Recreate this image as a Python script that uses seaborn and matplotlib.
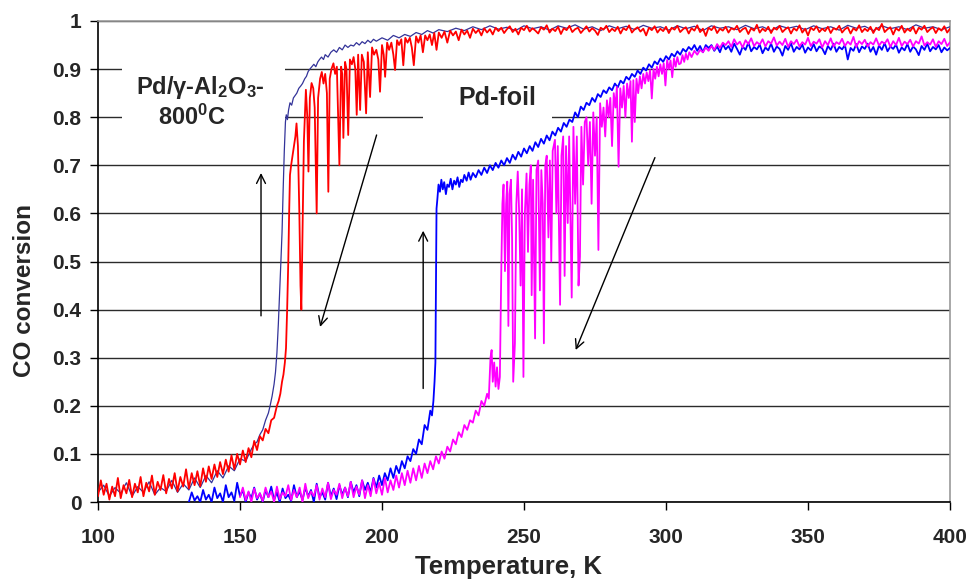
import matplotlib
matplotlib.use("Agg")
import matplotlib.pyplot as plt
import pandas as pd
import seaborn as sns
from matplotlib.patches import Rectangle

# ---------------- data ----------------
# Pd/gamma-Al2O3-800C, heating (ignition)  (T [K], CO conversion)
ALU_UP = [
    (100, 0.02), (102, 0.035), (104, 0.012), (106, 0.03), (108, 0.018), (110, 0.04),
    (112, 0.012), (114, 0.032), (116, 0.02), (118, 0.042), (120, 0.015), (122, 0.03),
    (124, 0.022), (126, 0.045), (128, 0.02), (130, 0.038), (132, 0.025), (134, 0.05),
    (136, 0.03), (138, 0.055), (140, 0.04), (142, 0.065), (144, 0.05), (146, 0.075),
    (148, 0.065), (150, 0.09), (152, 0.085), (154, 0.11), (155, 0.12), (156, 0.125),
    (157, 0.14), (158, 0.15), (159, 0.17), (160, 0.185), (160.6, 0.20), (161.3, 0.22),
    (162, 0.245), (162.5, 0.27), (163, 0.31), (163.5, 0.37), (164, 0.44), (164.4, 0.50),
    (164.8, 0.56), (165.2, 0.65), (165.6, 0.73), (166, 0.79), (166.3, 0.805), (166.7, 0.795),
    (167.1, 0.815), (167.6, 0.83), (168.2, 0.825), (168.8, 0.84), (169.4, 0.845), (170, 0.85),
    (170.7, 0.86), (171.4, 0.865), (172, 0.87), (172.8, 0.88), (173.4, 0.885), (174, 0.895),
    (174.6, 0.90), (175.3, 0.905), (176, 0.91), (176.7, 0.905), (177.4, 0.915), (178, 0.92),
    (178.7, 0.925), (179.4, 0.92), (180, 0.93), (181, 0.925), (182, 0.935), (183, 0.94),
    (184, 0.935), (185, 0.945), (186, 0.94), (187, 0.95), (188, 0.945), (189, 0.95),
    (190, 0.948), (191, 0.955), (192, 0.95), (193, 0.957), (194, 0.953), (195, 0.96),
    (196, 0.955), (197, 0.962), (198, 0.958), (200, 0.965), (202, 0.96), (204, 0.97),
    (206, 0.965), (208, 0.972), (210, 0.968), (212, 0.976), (214, 0.972), (216, 0.98),
    (218, 0.975), (220, 0.982), (223, 0.978), (226, 0.985), (229, 0.98), (232, 0.988),
    (235, 0.982), (238, 0.99), (241, 0.983), (244, 0.987), (247, 0.98), (250, 0.99),
    (253, 0.984), (256, 0.988), (259, 0.981), (262, 0.99), (265, 0.985), (268, 0.992),
    (271, 0.983), (274, 0.988), (277, 0.98), (280, 0.99), (283, 0.984), (286, 0.989),
    (289, 0.982), (292, 0.991), (295, 0.985), (298, 0.988), (301, 0.981), (304, 0.99),
    (307, 0.984), (310, 0.989), (313, 0.98), (316, 0.99), (319, 0.985), (322, 0.988),
    (325, 0.982), (328, 0.991), (331, 0.984), (334, 0.988), (337, 0.98), (340, 0.99),
    (343, 0.985), (346, 0.989), (349, 0.982), (352, 0.99), (355, 0.984), (358, 0.988),
    (361, 0.981), (364, 0.991), (367, 0.985), (370, 0.989), (373, 0.98), (376, 0.99),
    (379, 0.984), (382, 0.988), (385, 0.982), (388, 0.992), (391, 0.985), (394, 0.988),
    (397, 0.982), (400, 0.988),
]

# Pd/gamma-Al2O3-800C, cooling (extinction, with oscillation spikes)
ALU_DOWN = [
    (100, 0.012), (101, 0.045), (102, 0.015), (103, 0.038), (104, 0.005), (105, 0.032),
    (106, 0.012), (107, 0.05), (108, 0.008), (109, 0.035), (110, 0.018), (111, 0.046),
    (112, 0.01), (113, 0.038), (114, 0.02), (115, 0.052), (116, 0.012), (117, 0.04),
    (118, 0.022), (119, 0.055), (120, 0.015), (121, 0.042), (122, 0.025), (123, 0.056),
    (124, 0.018), (125, 0.048), (126, 0.028), (127, 0.06), (128, 0.022), (129, 0.052),
    (130, 0.032), (131, 0.068), (132, 0.028), (133, 0.06), (134, 0.035), (135, 0.064),
    (136, 0.033), (137, 0.07), (138, 0.042), (139, 0.074), (140, 0.048), (141, 0.078),
    (142, 0.052), (143, 0.083), (144, 0.058), (145, 0.088), (146, 0.063), (147, 0.097),
    (148, 0.068), (149, 0.10), (150, 0.078), (151, 0.107), (152, 0.083), (153, 0.112),
    (154, 0.093), (155, 0.127), (156, 0.108), (157, 0.137), (158, 0.128), (159, 0.152),
    (160, 0.143), (161, 0.17), (162, 0.175), (163, 0.20), (163.6, 0.21), (164.2, 0.225),
    (164.8, 0.25), (165.3, 0.265), (165.8, 0.29), (166.2, 0.32), (166.6, 0.40), (167, 0.50),
    (167.3, 0.60), (167.6, 0.68), (168, 0.70), (168.5, 0.72), (169, 0.74), (169.5, 0.76),
    (169.9, 0.787), (170.4, 0.74), (170.9, 0.60), (171.3, 0.45), (171.6, 0.40), (172, 0.55),
    (172.5, 0.75), (173.2, 0.857), (173.7, 0.80), (174.1, 0.687), (174.6, 0.84), (175.2, 0.871),
    (175.8, 0.86), (176.3, 0.82), (177, 0.60), (177.5, 0.84), (178.2, 0.88), (178.8, 0.894),
    (179.4, 0.87), (180, 0.89), (180.6, 0.85), (181.1, 0.645), (181.6, 0.88), (182.2, 0.90),
    (182.9, 0.912), (183.5, 0.89), (184.1, 0.905), (185, 0.70), (185.6, 0.905), (186, 0.89),
    (186.4, 0.757), (187, 0.915), (187.5, 0.90), (188.1, 0.763), (188.7, 0.92), (189.4, 0.91),
    (190, 0.925), (190.6, 0.90), (191.1, 0.805), (191.6, 0.93), (192.3, 0.815), (192.9, 0.93),
    (193.6, 0.915), (194.4, 0.808), (195, 0.935), (195.8, 0.842), (196.5, 0.945), (197.2, 0.93),
    (198, 0.94), (198.7, 0.92), (199.3, 0.853), (200, 0.95), (200.6, 0.93), (201.1, 0.884),
    (201.8, 0.955), (202.5, 0.94), (203.3, 0.955), (204, 0.93), (204.6, 0.898), (205.3, 0.96),
    (206, 0.95), (206.8, 0.962), (207.5, 0.908), (208.2, 0.965), (209, 0.955), (209.8, 0.965),
    (210.5, 0.945), (211.2, 0.908), (212, 0.968), (212.8, 0.955), (213.6, 0.97), (214.4, 0.935),
    (215.2, 0.97), (216, 0.96), (216.8, 0.972), (217.6, 0.95), (218.4, 0.975), (219.2, 0.94),
    (220, 0.976), (221, 0.965), (222, 0.978), (223, 0.955), (224, 0.98), (225, 0.97),
    (226, 0.978), (227, 0.96), (228, 0.982), (229, 0.972), (230, 0.98), (231, 0.965),
    (232, 0.984), (233, 0.975), (234, 0.982), (235, 0.97), (236, 0.985), (237, 0.976),
    (238, 0.983), (239, 0.972), (240, 0.986),
    (241, 0.979), (242, 0.986), (243, 0.975), (244, 0.983), (245, 0.989), (246, 0.977),
    (247, 0.984), (248, 0.972), (249, 0.986), (250, 0.981), (251, 0.99), (252, 0.978),
    (253, 0.985), (254, 0.98), (255, 0.974), (256, 0.987), (257, 0.982), (258, 0.991),
    (259, 0.976), (260, 0.984), (261, 0.979), (262, 0.988), (263, 0.973), (264, 0.985),
    (265, 0.981), (266, 0.99), (267, 0.977), (268, 0.983), (269, 0.986), (270, 0.975),
    (271, 0.982), (272, 0.989), (273, 0.978), (274, 0.985), (275, 0.98), (276, 0.971),
    (277, 0.986), (278, 0.982), (279, 0.99), (280, 0.977), (281, 0.984), (282, 0.979),
    (283, 0.988), (284, 0.974), (285, 0.985), (286, 0.981), (287, 0.991), (288, 0.976),
    (289, 0.983), (290, 0.987), (291, 0.978), (292, 0.984), (293, 0.97), (294, 0.986),
    (295, 0.981), (296, 0.989), (297, 0.976), (298, 0.984), (299, 0.979), (300, 0.988),
    (301, 0.975), (302, 0.986), (303, 0.982), (304, 0.99), (305, 0.977), (306, 0.983),
    (307, 0.987), (308, 0.974), (309, 0.985), (310, 0.98), (311, 0.991), (312, 0.977),
    (313, 0.984), (314, 0.969), (315, 0.986), (316, 0.981), (317, 0.989), (318, 0.975),
    (319, 0.984), (320, 0.98), (321, 0.988), (322, 0.976), (323, 0.985), (324, 0.982),
    (325, 0.99), (326, 0.977), (327, 0.983), (328, 0.986), (329, 0.973), (330, 0.985),
    (331, 0.98), (332, 0.992), (333, 0.976), (334, 0.984), (335, 0.979), (336, 0.988),
    (337, 0.975), (338, 0.986), (339, 0.982), (340, 0.99), (341, 0.977), (342, 0.983),
    (343, 0.987), (344, 0.974), (345, 0.985), (346, 0.98), (347, 0.991), (348, 0.976),
    (349, 0.984), (350, 0.97), (351, 0.986), (352, 0.981), (353, 0.989), (354, 0.977),
    (355, 0.984), (356, 0.979), (357, 0.988), (358, 0.975), (359, 0.985), (360, 0.982),
    (361, 0.99), (362, 0.976), (363, 0.983), (364, 0.987), (365, 0.974), (366, 0.985),
    (367, 0.98), (368, 0.991), (369, 0.977), (370, 0.984), (371, 0.979), (372, 0.988),
    (373, 0.975), (374, 0.986), (375, 0.981), (376, 0.994), (377, 0.977), (378, 0.983),
    (379, 0.987), (380, 0.972), (381, 0.985), (382, 0.98), (383, 0.99), (384, 0.976),
    (385, 0.984), (386, 0.979), (387, 0.988), (388, 0.974), (389, 0.986), (390, 0.982),
    (391, 0.99), (392, 0.977), (393, 0.983), (394, 0.987), (395, 0.975), (396, 0.985),
    (397, 0.98), (398, 0.989), (399, 0.976), (400, 0.984),
]

# Pd-foil, heating
FOIL_UP = [
    (132, 0.0), (133, 0.02), (134, 0.003), (135, 0.012), (136, 0.0), (137, 0.025),
    (138, 0.005), (139, 0.015), (140, 0.0), (141, 0.03), (142, 0.008), (143, 0.018),
    (144, 0.0), (145, 0.035), (146, 0.01), (147, 0.02), (148, 0.002), (149, 0.04),
    (150, 0.012), (151, 0.025), (152, 0.0), (153, 0.02), (154, 0.008), (155, 0.03),
    (156, 0.005), (157, 0.018), (158, 0.0), (159, 0.025), (160, 0.01), (161, 0.032),
    (162, 0.004), (163, 0.02), (164, 0.0), (165, 0.028), (166, 0.008), (167, 0.015),
    (168, 0.002), (169, 0.035), (170, 0.01), (171, 0.022), (172, 0.004), (173, 0.03),
    (174, 0.012), (175, 0.025), (176, 0.0), (177, 0.038), (178, 0.01), (179, 0.02),
    (180, 0.005), (181, 0.04), (182, 0.012), (183, 0.028), (184, 0.006), (185, 0.035),
    (186, 0.015), (187, 0.03), (188, 0.01), (189, 0.042), (190, 0.02), (191, 0.035),
    (192, 0.012), (193, 0.045), (194, 0.025), (195, 0.04), (196, 0.02), (197, 0.05),
    (198, 0.03), (199, 0.055), (200, 0.035), (201, 0.06), (202, 0.045), (203, 0.07),
    (204, 0.05), (205, 0.075), (206, 0.06), (207, 0.085), (208, 0.07), (209, 0.095),
    (210, 0.085), (211, 0.11), (212, 0.10), (213, 0.13), (214, 0.12), (215, 0.16),
    (216, 0.15), (217, 0.19), (217.6, 0.18), (218.1, 0.21), (218.5, 0.25), (218.8, 0.29),
    (219.0, 0.45), (219.2, 0.61), (219.5, 0.63), (219.9, 0.66), (220.4, 0.645), (220.9, 0.67),
    (221.4, 0.65), (221.9, 0.665), (222.5, 0.64), (223, 0.66), (223.6, 0.655), (224.2, 0.672),
    (224.8, 0.65), (225.4, 0.668), (226, 0.66), (226.6, 0.675), (227.2, 0.655), (227.8, 0.67),
    (228.4, 0.665), (229, 0.68), (229.8, 0.668), (230.5, 0.685), (231.2, 0.67), (232, 0.684),
    (233, 0.675), (234, 0.69), (235, 0.68), (236, 0.695), (237, 0.684), (238, 0.70),
    (239, 0.69), (240, 0.705), (241, 0.695), (242, 0.71), (243, 0.70), (244, 0.715),
    (245, 0.705), (246, 0.722), (247, 0.712), (248, 0.728), (249, 0.718), (250, 0.735),
    (251, 0.725), (252, 0.74), (253, 0.73), (254, 0.748), (255, 0.738), (256, 0.755),
    (257, 0.745), (258, 0.762), (259, 0.752), (260, 0.77), (261, 0.762), (262, 0.778),
    (263, 0.77), (264, 0.788), (265, 0.78), (266, 0.795), (267, 0.79), (268, 0.81),
    (269, 0.80), (270, 0.822), (271, 0.815), (272, 0.83), (273, 0.825), (274, 0.84),
    (275, 0.832), (276, 0.848), (277, 0.842), (278, 0.856), (279, 0.85), (280, 0.862),
    (281, 0.856), (282, 0.87), (283, 0.862), (284, 0.876), (285, 0.87), (286, 0.884),
    (287, 0.878), (288, 0.89), (289, 0.884), (290, 0.897), (291, 0.89), (292, 0.903),
    (293, 0.897), (294, 0.91), (295, 0.903), (296, 0.916), (297, 0.91), (298, 0.922),
    (299, 0.915), (300, 0.927), (301, 0.92), (302, 0.932), (303, 0.926), (304, 0.937),
    (305, 0.93), (306, 0.942), (307, 0.936), (308, 0.946), (309, 0.94), (310, 0.95),
    (311, 0.938), (312, 0.948), (313, 0.935), (314, 0.95),
    (315, 0.944), (316, 0.95), (317, 0.938), (318, 0.947), (319, 0.935), (320, 0.952),
    (321, 0.941), (322, 0.948), (323, 0.936), (324, 0.953), (325, 0.942), (326, 0.93),
    (327, 0.947), (328, 0.94), (329, 0.955), (330, 0.937), (331, 0.946), (332, 0.941),
    (333, 0.951), (334, 0.933), (335, 0.945), (336, 0.939), (337, 0.953), (338, 0.936),
    (339, 0.947), (340, 0.942), (341, 0.928), (342, 0.948), (343, 0.94), (344, 0.954),
    (345, 0.936), (346, 0.946), (347, 0.941), (348, 0.951), (349, 0.934), (350, 0.945),
    (351, 0.939), (352, 0.952), (353, 0.937), (354, 0.947), (355, 0.943), (356, 0.931),
    (357, 0.948), (358, 0.94), (359, 0.953), (360, 0.936), (361, 0.946), (362, 0.941),
    (363, 0.95), (364, 0.92), (365, 0.944), (366, 0.938), (367, 0.952), (368, 0.935),
    (369, 0.947), (370, 0.942), (371, 0.953), (372, 0.936), (373, 0.946), (374, 0.93),
    (375, 0.949), (376, 0.94), (377, 0.954), (378, 0.937), (379, 0.947), (380, 0.942),
    (381, 0.951), (382, 0.934), (383, 0.945), (384, 0.939), (385, 0.952), (386, 0.936),
    (387, 0.947), (388, 0.941), (389, 0.929), (390, 0.948), (391, 0.94), (392, 0.953),
    (393, 0.937), (394, 0.946), (395, 0.941), (396, 0.95), (397, 0.935), (398, 0.945),
    (399, 0.939), (400, 0.944),
]

# Pd-foil, cooling (with oscillation spikes)
FOIL_DOWN = [
    (150, 0.01), (151, 0.03), (152, 0.004), (153, 0.022), (154, 0.0), (155, 0.028),
    (156, 0.008), (157, 0.018), (158, 0.002), (159, 0.03), (160, 0.01), (161, 0.022),
    (162, 0.0), (163, 0.032), (164, 0.006), (165, 0.02), (166, 0.012), (167, 0.035),
    (168, 0.004), (169, 0.025), (170, 0.01), (171, 0.03), (172, 0.0), (173, 0.038),
    (174, 0.008), (175, 0.022), (176, 0.012), (177, 0.035), (178, 0.005), (179, 0.028),
    (180, 0.01), (181, 0.04), (182, 0.006), (183, 0.025), (184, 0.015), (185, 0.038),
    (186, 0.008), (187, 0.03), (188, 0.012), (189, 0.042), (190, 0.01), (191, 0.032),
    (192, 0.015), (193, 0.045), (194, 0.008), (195, 0.035), (196, 0.012), (197, 0.048),
    (198, 0.018), (199, 0.04), (200, 0.015), (201, 0.05), (202, 0.02), (203, 0.045),
    (204, 0.025), (205, 0.055), (206, 0.03), (207, 0.06), (208, 0.035), (209, 0.065),
    (210, 0.04), (211, 0.07), (212, 0.045), (213, 0.075), (214, 0.05), (215, 0.08),
    (216, 0.06), (217, 0.085), (218, 0.068), (219, 0.095), (220, 0.08), (221, 0.105),
    (222, 0.09), (223, 0.115), (224, 0.105), (225, 0.13), (226, 0.12), (227, 0.145),
    (228, 0.135), (229, 0.16), (230, 0.15), (231, 0.17), (232, 0.165), (233, 0.19),
    (234, 0.18), (235, 0.21), (236, 0.20), (237, 0.225), (237.6, 0.215), (238.2, 0.30),
    (238.6, 0.316), (239, 0.25), (239.5, 0.29), (240, 0.24), (240.5, 0.28), (241, 0.235),
    (241.5, 0.26), (242, 0.48), (242.4, 0.62), (242.8, 0.66), (243.3, 0.48), (243.7, 0.62),
    (244.1, 0.666), (244.5, 0.366), (244.9, 0.64), (245.4, 0.67), (245.8, 0.55), (246.2, 0.25),
    (246.8, 0.33), (247.3, 0.62), (247.8, 0.687), (248.3, 0.60), (248.8, 0.45), (249.3, 0.65),
    (249.8, 0.26), (250.3, 0.60), (250.9, 0.683), (251.4, 0.52), (251.9, 0.66), (252.4, 0.70),
    (252.7, 0.43), (253.2, 0.67), (253.9, 0.34), (254.4, 0.69), (255, 0.71), (255.6, 0.44),
    (256.1, 0.69), (256.6, 0.62), (257, 0.33), (257.5, 0.70), (258, 0.72), (258.6, 0.55),
    (259.1, 0.71), (259.6, 0.50), (260.1, 0.73), (260.9, 0.753), (261.4, 0.60), (261.9, 0.74),
    (262.7, 0.41), (263.2, 0.72), (263.8, 0.76), (264.3, 0.47), (264.8, 0.74), (265.4, 0.58),
    (265.9, 0.76), (266.8, 0.425), (267.4, 0.78), (268, 0.62), (268.6, 0.76), (269.2, 0.45),
    (269.7, 0.51), (270.2, 0.78), (270.8, 0.66), (271.4, 0.79), (272, 0.80), (272.6, 0.70),
    (273.2, 0.79), (273.8, 0.62), (274.4, 0.81), (275, 0.72), (275.6, 0.80), (276.2, 0.524),
    (276.8, 0.829), (277.4, 0.78), (278, 0.82), (278.6, 0.76), (279.2, 0.835), (279.8, 0.80),
    (280.4, 0.84), (281, 0.74), (281.6, 0.85), (282.2, 0.82), (282.7, 0.863), (283.3, 0.697),
    (283.9, 0.86), (284.5, 0.82), (285.1, 0.865), (285.7, 0.80), (286.3, 0.87), (286.9, 0.84),
    (287.5, 0.875), (288, 0.749), (288.5, 0.877), (289, 0.79), (289.6, 0.88), (290.2, 0.85),
    (290.8, 0.885), (291.4, 0.86), (292, 0.89), (292.6, 0.87), (293.2, 0.893), (293.8, 0.875),
    (294.4, 0.898), (295, 0.839), (295.6, 0.90), (296.2, 0.88), (296.8, 0.905), (297.4, 0.885),
    (298, 0.91), (298.6, 0.89), (299.2, 0.912), (299.8, 0.866), (300.4, 0.919), (301, 0.90),
    (301.6, 0.918), (302.2, 0.883), (302.8, 0.922), (303.4, 0.905), (304, 0.925), (304.6, 0.91),
    (305.2, 0.912), (305.8, 0.929), (306.4, 0.915), (307, 0.932), (307.6, 0.92), (308.2, 0.935),
    (309, 0.925), (310, 0.938), (311, 0.93), (312, 0.94), (313, 0.935), (314, 0.945),
    (315, 0.938), (316, 0.948), (317, 0.94), (318, 0.952), (319, 0.944), (320, 0.955),
    (321, 0.95), (322, 0.958), (323, 0.946), (324, 0.962), (325, 0.951), (326, 0.957),
    (327, 0.945), (328, 0.96), (329, 0.952), (330, 0.964), (331, 0.948), (332, 0.956),
    (333, 0.951), (334, 0.962), (335, 0.947), (336, 0.958), (337, 0.953), (338, 0.966),
    (339, 0.949), (340, 0.957), (341, 0.95), (342, 0.963), (343, 0.946), (344, 0.958),
    (345, 0.952), (346, 0.961), (347, 0.947), (348, 0.956), (349, 0.951), (350, 0.965),
    (351, 0.948), (352, 0.957), (353, 0.953), (354, 0.962), (355, 0.945), (356, 0.958),
    (357, 0.95), (358, 0.964), (359, 0.947), (360, 0.956), (361, 0.952), (362, 0.963),
    (363, 0.948), (364, 0.957), (365, 0.951), (366, 0.967), (367, 0.946), (368, 0.958),
    (369, 0.952), (370, 0.961), (371, 0.947), (372, 0.956), (373, 0.951), (374, 0.964),
    (375, 0.949), (376, 0.957), (377, 0.953), (378, 0.962), (379, 0.946), (380, 0.958),
    (381, 0.95), (382, 0.965), (383, 0.948), (384, 0.957), (385, 0.952), (386, 0.961),
    (387, 0.947), (388, 0.958), (389, 0.953), (390, 0.968), (391, 0.949), (392, 0.956),
    (393, 0.951), (394, 0.962), (395, 0.946), (396, 0.958), (397, 0.952), (398, 0.963),
    (399, 0.948), (400, 0.956),
]

X_TICKS = [100, 150, 200, 250, 300, 350, 400]
Y_TICKS = [0, 0.1, 0.2, 0.3, 0.4, 0.5, 0.6, 0.7, 0.8, 0.9, 1.0]
Y_TICK_LABELS = ["0", "0.1", "0.2", "0.3", "0.4", "0.5", "0.6", "0.7", "0.8", "0.9", "1"]

# arrows: (tail T, tail conv, head T, head conv)
ARROWS = [
    (157.4, 0.387, 157.4, 0.684),
    (198.1, 0.763, 178.2, 0.364),
    (214.5, 0.236, 214.5, 0.564),
    (296.1, 0.716, 268.2, 0.316),
]

# ---------------- style ----------------
sns.set_theme(style="white")
plt.rcParams["font.family"] = ["Liberation Sans", "DejaVu Sans"]
plt.rcParams["font.weight"] = "bold"
plt.rcParams["mathtext.fontset"] = "custom"
plt.rcParams["mathtext.rm"] = "Liberation Sans:bold"
plt.rcParams["mathtext.bf"] = "Liberation Sans:bold"
plt.rcParams["mathtext.it"] = "Liberation Sans:bold"
plt.rcParams["mathtext.default"] = "rm"

fig = plt.figure(figsize=(9.7, 5.81), dpi=100)
ax = fig.add_axes([98 / 970, 1 - 502 / 581, 852 / 970, 481 / 581])


def frame(pairs):
    return pd.DataFrame(pairs, columns=["T", "conv"])


series = [
    (ALU_UP, "#333399", 0.9),
    (ALU_DOWN, "#FF0000", 1.3),
    (FOIL_UP, "#0000FF", 1.3),
    (FOIL_DOWN, "#FF00FF", 1.3),
]
for pairs, col, lw in series:
    sns.lineplot(data=frame(pairs), x="T", y="conv", color=col, lw=lw,
                 estimator=None, ax=ax, zorder=3)

ax.set_xlim(100, 400)
ax.set_ylim(0, 1)
ax.set_xticks(X_TICKS)
ax.set_xticklabels([str(t) for t in X_TICKS])
ax.set_yticks(Y_TICKS)
ax.set_yticklabels(Y_TICK_LABELS)

ax.set_axisbelow(True)
ax.yaxis.grid(True, color="#2b2b2b", lw=1.0)
ax.xaxis.grid(False)

for side in ["left", "bottom"]:
    ax.spines[side].set_color("black")
    ax.spines[side].set_linewidth(1.2)
for side in ["top", "right"]:
    ax.spines[side].set_color("#999999")
    ax.spines[side].set_linewidth(1.2)

ax.tick_params(axis="both", which="major", direction="out", length=6, width=1,
               color="black", left=True, bottom=True, labelsize=15)
ax.tick_params(axis="y", pad=6)
ax.tick_params(axis="x", pad=13)
for lab in ax.get_xticklabels() + ax.get_yticklabels():
    lab.set_fontweight("bold")

ax.set_xlabel("Temperature, K", fontsize=18.5, fontweight="bold")
ax.set_ylabel("CO conversion", fontsize=17.5, fontweight="bold")
ax.xaxis.set_label_coords(0.482, -0.11)
ax.yaxis.set_label_coords(-0.073, 0.44)

# white boxes behind the sample labels (interrupt the grid lines)
ax.add_patch(Rectangle((108.5, 0.74), 57.3, 0.20, facecolor="white",
                       edgecolor="none", zorder=1))
ax.add_patch(Rectangle((214.4, 0.78), 45.5, 0.10, facecolor="white",
                       edgecolor="none", zorder=1))

ax.text(135.9, 0.861, "Pd/γ-Al$_2$O$_3$-", fontsize=17, fontweight="bold",
        ha="center", va="center", zorder=5)
ax.text(133.1, 0.800, "800$^0$C", fontsize=17, fontweight="bold",
        ha="center", va="center", zorder=5)
ax.text(240.5, 0.840, "Pd-foil", fontsize=18, fontweight="bold",
        ha="center", va="center", zorder=5)

for x0, y0, x1, y1 in ARROWS:
    ax.annotate("", xy=(x1, y1), xytext=(x0, y0),
                arrowprops=dict(arrowstyle="->", color="black", lw=1.0,
                                mutation_scale=16, shrinkA=0, shrinkB=0),
                zorder=6)

fig.savefig("out.png", dpi=100)
